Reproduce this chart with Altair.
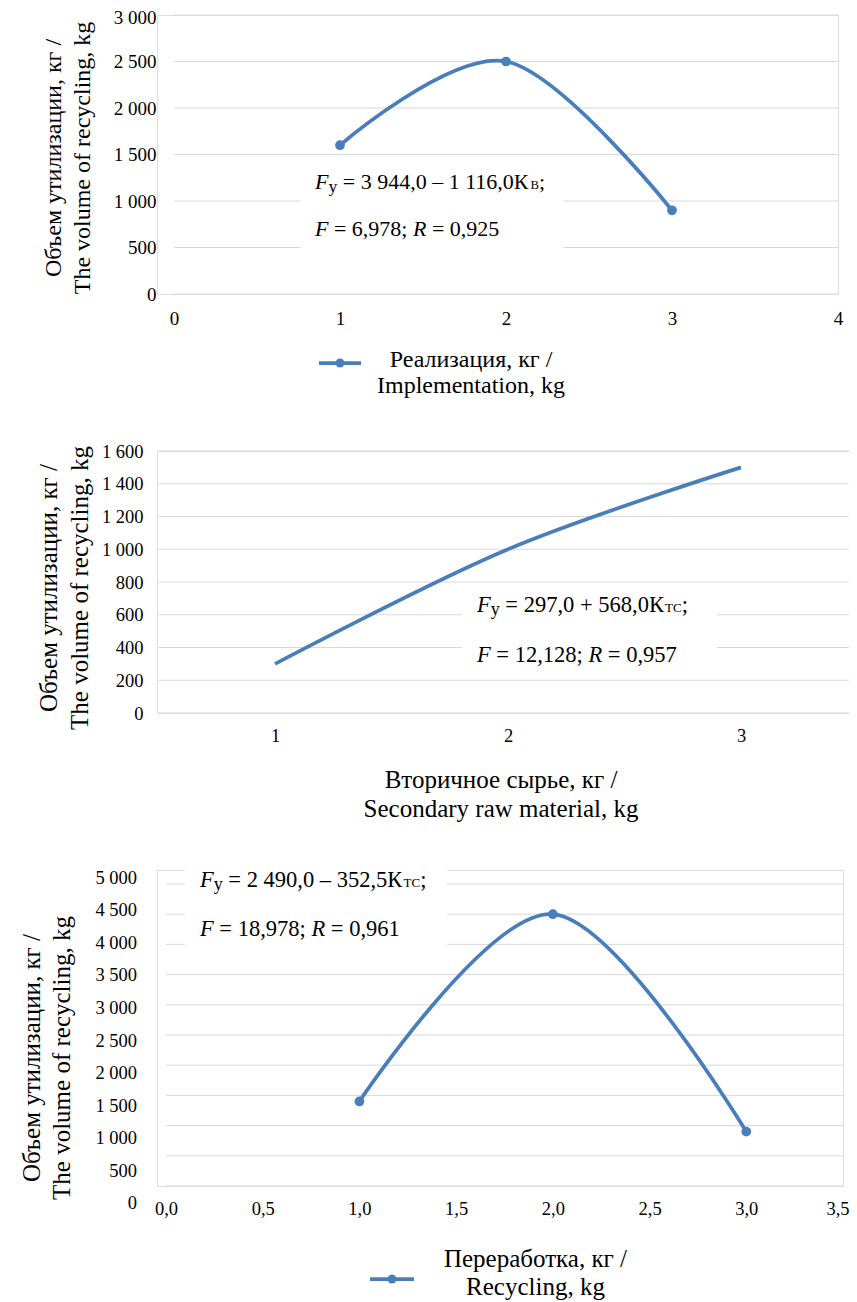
import altair as alt
import pandas as pd

FONT = "Liberation Serif"
BLUE = "#4a7ebb"
GRID = "#d9d9d9"
INK = "#000000"

Y_TITLE = ["Объем утилизации, кг /", "The volume of recycling, kg"]

# ---- Panel 1: Реализация ----
P1_X = [1, 2, 3]
P1_Y = [1600, 2500, 900]
P1_YTICKS = [0, 500, 1000, 1500, 2000, 2500, 3000]
P1_XTICKS = [0, 1, 2, 3, 4]
P1_LEGEND = ["Реализация, кг /", "Implementation, kg"]
P1_EQ1 = [("F", "i"), ("у", "sub"), (" = 3 944,0 – 1 116,0К", "n"), ("В", "sc"), (";", "n")]
P1_EQ2 = [("F", "i"), (" = 6,978; ", "n"), ("R", "i"), (" = 0,925", "n")]

# ---- Panel 2: Вторичное сырье ----
P2_X = [1, 2, 3]
P2_Y = [300, 1000, 1500]
P2_YTICKS = [0, 200, 400, 600, 800, 1000, 1200, 1400, 1600]
P2_XTICKS = [1, 2, 3]
P2_XTITLE = ["Вторичное сырье, кг /", "Secondary raw material, kg"]
P2_EQ1 = [("F", "i"), ("у", "sub"), (" = 297,0 + 568,0К", "n"), ("ТС", "sc"), (";", "n")]
P2_EQ2 = [("F", "i"), (" = 12,128; ", "n"), ("R", "i"), (" = 0,957", "n")]

# ---- Panel 3: Переработка ----
P3_X = [1.0, 2.0, 3.0]
P3_Y = [1400, 4500, 900]
P3_YTICKS = [0, 500, 1000, 1500, 2000, 2500, 3000, 3500, 4000, 4500, 5000]
P3_XTICKS = [0.0, 0.5, 1.0, 1.5, 2.0, 2.5, 3.0, 3.5]
P3_LEGEND = ["Переработка, кг /", "Recycling, kg"]
P3_EQ1 = [("F", "i"), ("у", "sub"), (" = 2 490,0 – 352,5К", "n"), ("ТС", "sc"), (";", "n")]
P3_EQ2 = [("F", "i"), (" = 18,978; ", "n"), ("R", "i"), (" = 0,961", "n")]

ONE = pd.DataFrame({"k": [0]})

WIDTH = {" ": 250, "=": 564, "+": 564, "–": 500, ",": 250, ";": 278,
         "К": 722, "В": 667, "Т": 611, "С": 667, "у": 500, "F": 611, "R": 611}

THOUSANDS = "replace(format(datum.{f}, ','), ',', ' ')"


def adv(s, size):
    return sum(WIDTH.get(c, 500) for c in s) * size / 1000.0


def txt(s, x, y, size, italic=False, align="left", baseline="alphabetic", angle=0, line_height=None):
    kw = dict(text=s, font=FONT, fontSize=size, fontStyle="italic" if italic else "normal",
              align=align, baseline=baseline, color=INK)
    if angle:
        kw["angle"] = angle
    if line_height:
        kw["lineHeight"] = line_height
    return alt.Chart(ONE).mark_text(**kw).encode(x=alt.value(x), y=alt.value(y))


def rich(pieces, x0, y0, s):
    out = []
    x = x0
    for text, style in pieces:
        size = {"i": s, "n": s, "sub": 0.8 * s, "sc": 0.58 * s}[style]
        dy = 3 if style == "sub" else 0
        stripped = text.lstrip(" ")
        x += (len(text) - len(stripped)) * 250 * size / 1000.0
        out.append(txt(stripped, x, y0 + dy, size, italic=(style == "i")))
        x += adv(stripped, size)
    return out


def white_box(x1, x2, y1, y2):
    return alt.Chart(ONE).mark_rect(color="white").encode(
        x=alt.value(x1), x2=alt.value(x2), y=alt.value(y1), y2=alt.value(y2))


def legend_symbol(x1, x2, y):
    line = alt.Chart(ONE).mark_rule(color=BLUE, strokeWidth=3.75).encode(
        x=alt.value(x1), x2=alt.value(x2), y=alt.value(y))
    dot = alt.Chart(ONE).mark_circle(color=BLUE, opacity=1, size=80).encode(
        x=alt.value((x1 + x2) / 2), y=alt.value(y))
    return [line, dot]


def yaxis(ticks, pad, size, top=None):
    kw = dict(values=ticks, title=None, grid=False, domain=False, ticks=False, tickSize=0,
              labelFont=FONT, labelFontSize=size, labelColor=INK, labelPadding=pad,
              labelOverlap=False, labelExpr=THOUSANDS.format(f="value"))
    if top is not None:
        # nudge the topmost label so it stays inside the page
        kw["labelOffset"] = {"condition": {"test": f"datum.value >= {top}", "value": 2.5},
                             "value": 0}
    return alt.Axis(**kw)


def xaxis(ticks, pad, size, expr, last=None):
    kw = dict(values=ticks, title=None, grid=False, domain=False, ticks=False, tickSize=0,
              labelFont=FONT, labelFontSize=size, labelColor=INK, labelPadding=pad,
              labelOverlap=False, labelFlush=False, labelExpr=expr)
    if last is not None:
        # keep the last label inside the page edge
        kw["labelAlign"] = {"condition": {"test": f"datum.value >= {last}", "value": "right"},
                            "value": "center"}
        kw["labelOffset"] = {"condition": {"test": f"datum.value >= {last}", "value": 6},
                             "value": 0}
    return alt.Axis(**kw)


def base_layers(xv, yv, yticks, xs, ys, xa, ya, gx0, gx1, points):
    grid_df = pd.DataFrame({"y": yticks})
    grid = alt.Chart(grid_df).mark_rule(color=GRID, strokeWidth=1).encode(
        y=alt.Y("y:Q", scale=ys, axis=ya),
        x=alt.XDatum(gx0, type="quantitative", scale=xs, axis=xa),
        x2=alt.X2Datum(gx1),
    )
    df = pd.DataFrame({"x": xv, "y": yv})
    enc = dict(x=alt.X("x:Q", scale=xs, axis=xa), y=alt.Y("y:Q", scale=ys, axis=ya))
    line = alt.Chart(df).mark_line(interpolate="cardinal", color=BLUE, strokeWidth=3.75).encode(**enc)
    pts = alt.Chart(df).mark_circle(color=BLUE, opacity=1, size=95).encode(**enc)
    return grid, line, (pts if points else None)


# ---------- Panel 1 ----------
xs1 = alt.Scale(domain=[0, 4], range=[17, 681], nice=False, zero=False)
ys1 = alt.Scale(domain=[0, 3000], nice=False)
g1, l1, pt1 = base_layers(P1_X, P1_Y, P1_YTICKS, xs1, ys1,
                          xaxis(P1_XTICKS, 15, 19, "format(datum.value, 'd')"),
                          yaxis(P1_YTICKS, 1, 19, top=3000), 0, 4, True)
p1_layers = [g1, white_box(144, 406, 147, 240), l1, pt1]
p1_layers += rich(P1_EQ1, 158, 174, 22)
p1_layers += rich(P1_EQ2, 158, 221, 22)
p1_layers.append(txt(Y_TITLE, -103.5, 143, 24, align="center", baseline="middle", angle=270, line_height=29))
p1_layers += legend_symbol(162, 204, 348)
p1_layers.append(txt(P1_LEGEND[0], 314, 352, 24, align="center"))
p1_layers.append(txt(P1_LEGEND[1], 314, 378, 24, align="center"))
p1 = alt.layer(*p1_layers).properties(width=681, height=279)

# ---------- Panel 2 ----------
xs2 = alt.Scale(domain=[1, 3], range=[118, 584], nice=False, zero=False)
ys2 = alt.Scale(domain=[0, 1600], nice=False)
g2, l2, _ = base_layers(P2_X, P2_Y, P2_YTICKS, xs2, ys2,
                        xaxis(P2_XTICKS, 13.5, 18.5, "format(datum.value, 'd')"),
                        yaxis(P2_YTICKS, 14, 18.5), 0.5, 3.5, False)
p2_layers = [g2, white_box(305, 560, 141, 215), l2]
p2_layers += rich(P2_EQ1, 320, 161, 22.5)
p2_layers += rich(P2_EQ2, 320, 211, 22.5)
p2_layers.append(txt(Y_TITLE, -108.5, 137, 25, align="center", baseline="middle", angle=270, line_height=31))
p2_layers.append(txt(P2_XTITLE[0], 344, 337, 25, align="center"))
p2_layers.append(txt(P2_XTITLE[1], 344, 366, 25, align="center"))
p2 = alt.layer(*p2_layers).properties(width=700, height=262)

# ---------- Panel 3 ----------
xs3 = alt.Scale(domain=[0, 3.5], range=[9, 686], nice=False, zero=False)
ys3 = alt.Scale(domain=[0, 5000], range=[316, 14], nice=False)
g3, l3, pt3 = base_layers(P3_X, P3_Y, P3_YTICKS, xs3, ys3,
                          xaxis(P3_XTICKS, 13, 18.5, "replace(format(datum.value, '.1f'), '.', ',')",
                                last=3.5),
                          None, 0, 3.5, True)
# the value labels of this panel sit on a slightly stretched scale of their own
ylab3 = alt.Chart(pd.DataFrame({"y": P3_YTICKS})).transform_calculate(
    lbl=THOUSANDS.format(f="y")
).mark_text(font=FONT, fontSize=18.5, color=INK, align="right", baseline="middle").encode(
    y=alt.Y("y:Q", scale=alt.Scale(domain=[0, 5000], range=[333.3, 7.7], nice=False), axis=None),
    x=alt.value(-20),
    text="lbl:N",
)
p3_layers = [g3, white_box(28, 290, 0, 90), l3, pt3, ylab3]
p3_layers += rich(P3_EQ1, 43, 17, 22.5)
p3_layers += rich(P3_EQ2, 43, 66, 22.5)
p3_layers.append(txt(Y_TITLE, -125, 188, 25, align="center", baseline="middle", angle=270, line_height=30))
p3_layers += legend_symbol(213, 257, 409)
p3_layers.append(txt(P3_LEGEND[0], 378.5, 397, 25, align="center"))
p3_layers.append(txt(P3_LEGEND[1], 378.5, 425, 25, align="center"))
p3 = alt.layer(*p3_layers).resolve_scale(y="independent").properties(width=686, height=316)

chart = alt.vconcat(p1, p2, p3, spacing=157, bounds="flush").properties(
    autosize=alt.AutoSizeParams(type="none"),
    padding={"left": 149, "top": 7, "right": 692, "bottom": 1287},
).configure_view(stroke=None).configure(background="white")

chart.save("out.html", embed_options={"renderer": "svg", "actions": False})
